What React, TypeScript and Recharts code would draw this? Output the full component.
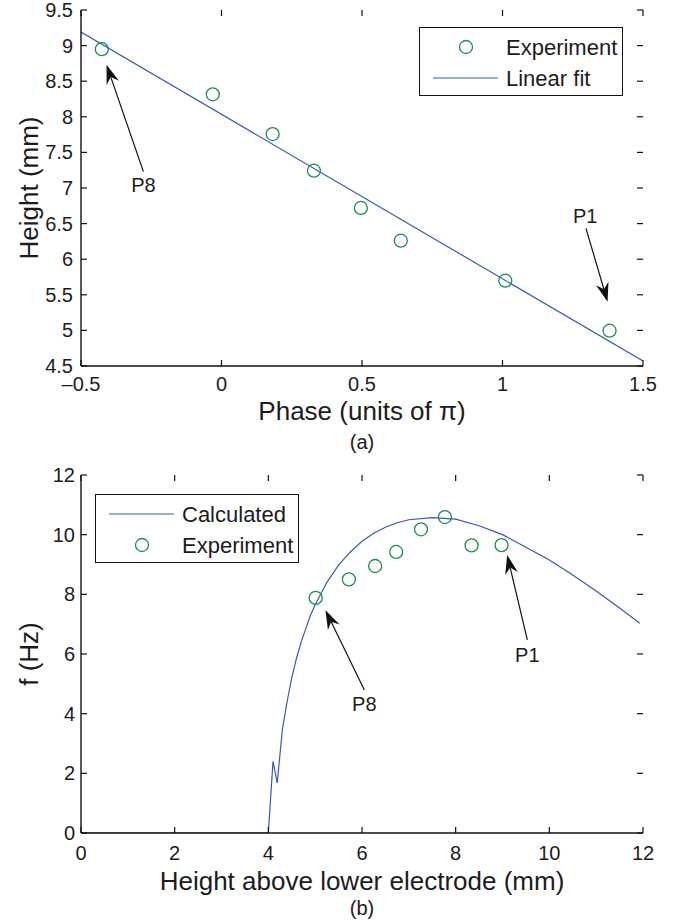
import React from 'react';
import { ComposedChart, Line, Scatter, XAxis, YAxis, Legend, ReferenceLine, ReferenceDot } from 'recharts';

const FONT = '"Liberation Sans", Arial, Helvetica, sans-serif';
const INK = '#1c1c1c';
const BLUE = '#3857bd';
const GREEN = '#1b8f4c';

// (a) height vs phase
const phaseExp = [-0.426, -0.031, 0.182, 0.329, 0.496, 0.638, 1.01, 1.381];
const heightExp = [8.95, 8.316, 7.758, 7.243, 6.72, 6.26, 5.698, 4.996];
const phaseFit = [-0.5, 1.5];
const heightFit = [9.19, 4.57];
const phaseTicks = [-0.5, 0, 0.5, 1, 1.5];
const heightTicks = [4.5, 5, 5.5, 6, 6.5, 7, 7.5, 8, 8.5, 9, 9.5];

// (b) frequency vs height above lower electrode
const calcHeight = [0, 4.0, 4.1, 4.19, 4.3, 4.4, 4.5, 4.6, 4.7, 4.8, 4.9, 5.0, 5.1, 5.25, 5.5, 5.75, 6.0, 6.25, 6.5, 6.75, 7.0, 7.5, 8.0, 8.5, 9.0, 9.5, 10.0, 10.5, 11.0, 11.5, 11.93];
const calcFreq = [0, 0, 2.4, 1.68, 3.47, 4.4, 5.2, 5.85, 6.4, 6.85, 7.3, 7.65, 7.95, 8.4, 8.98, 9.42, 9.78, 10.05, 10.25, 10.4, 10.5, 10.57, 10.52, 10.3, 10.0, 9.58, 9.15, 8.65, 8.11, 7.54, 7.03];
const expHeight = [5.01, 5.72, 6.28, 6.73, 7.26, 7.77, 8.34, 8.98];
const expFreq = [7.88, 8.5, 8.95, 9.42, 10.18, 10.59, 9.64, 9.65];
const bTicks = [0, 2, 4, 6, 8, 10, 12];

// annotation arrows: tail -> tip, label centre
const arrowsA = [
  { name: 'P8', tail: [-0.278, 7.23], tip: [-0.409, 8.73], at: [-0.278, 7.04] },
  { name: 'P1', tail: [1.297, 6.434], tip: [1.374, 5.403], at: [1.294, 6.61] },
];
const arrowsB = [
  { name: 'P8', tail: [6.05, 4.79], tip: [5.22, 7.47], at: [6.05, 4.33] },
  { name: 'P1', tail: [9.53, 6.47], tip: [9.1, 9.32], at: [9.53, 5.96] },
];

const fitA = phaseFit.map((x, i) => ({ x, y: heightFit[i] }));
const expA = phaseExp.map((x, i) => ({ x, y: heightExp[i] }));
const calcB = calcHeight.map((x, i) => ({ x, y: calcFreq[i] }));
const expB = expHeight.map((x, i) => ({ x, y: expFreq[i] }));

const fmt = (v: number) => (v < 0 ? '\u2013' + Math.abs(v) : String(v));

const PLOT_W = 562;
const TICK = 6;

const ring = (p: any) => (
  <circle cx={p.cx} cy={p.cy} r={6.5} fill="none" stroke={GREEN} strokeWidth={1.3} />
);

const arrowShape = (p: any) => {
  const { x1, y1, x2, y2 } = p;
  const dx = x2 - x1;
  const dy = y2 - y1;
  const len = Math.hypot(dx, dy) || 1;
  const ux = dx / len;
  const uy = dy / len;
  const nx = -uy;
  const ny = ux;
  const L = 19;
  const W = 6.5;
  const N = 13;
  const bx = x2 - ux * L;
  const by = y2 - uy * L;
  const pts = [
    [x2, y2],
    [bx + nx * W, by + ny * W],
    [x2 - ux * N, y2 - uy * N],
    [bx - nx * W, by - ny * W],
  ]
    .map((q) => q.join(','))
    .join(' ');
  return (
    <g>
      <line x1={x1} y1={y1} x2={x2 - ux * N} y2={y2 - uy * N} stroke="#111" strokeWidth={1.2} />
      <polygon points={pts} fill="#111" />
    </g>
  );
};

// bottom tick: inward marks on bottom and top edges, label below
const xTick = (plotH: number, gap: number) => (p: any) => {
  const { x, y, payload } = p;
  return (
    <g>
      <line x1={x} x2={x} y1={y} y2={y - TICK} stroke="#111" strokeWidth={1.2} />
      <line x1={x} x2={x} y1={y - plotH} y2={y - plotH + TICK} stroke="#111" strokeWidth={1.2} />
      <text x={x} y={y + gap} textAnchor="middle" dominantBaseline="central" fontSize={20} fontFamily={FONT} fill={INK}>
        {fmt(payload.value)}
      </text>
    </g>
  );
};

// left tick: inward marks on left and right edges, label to the left
const yTick = (gap: number) => (p: any) => {
  const { x, y, payload } = p;
  return (
    <g>
      <line x1={x} x2={x + TICK} y1={y} y2={y} stroke="#111" strokeWidth={1.2} />
      <line x1={x + PLOT_W} x2={x + PLOT_W - TICK} y1={y} y2={y} stroke="#111" strokeWidth={1.2} />
      <text x={x - gap} y={y} textAnchor="end" dominantBaseline="central" fontSize={20} fontFamily={FONT} fill={INK}>
        {fmt(payload.value)}
      </text>
    </g>
  );
};

const xTitle = (title: string, sub: string, dy1: number, dy2: number) => (props: any) => {
  const vb = props.viewBox;
  const cx = vb.x + vb.width / 2;
  return (
    <g fontFamily={FONT} fill={INK}>
      <text x={cx} y={vb.y + dy1} textAnchor="middle" dominantBaseline="central" fontSize={26}>
        {title}
      </text>
      <text x={cx} y={vb.y + dy2} textAnchor="middle" dominantBaseline="central" fontSize={20}>
        {sub}
      </text>
    </g>
  );
};

const yTitle = (title: string) => (props: any) => {
  const vb = props.viewBox;
  const cx = vb.x + 29;
  const cy = vb.y + vb.height / 2;
  return (
    <text
      x={cx}
      y={cy}
      transform={`rotate(-90, ${cx}, ${cy})`}
      textAnchor="middle"
      dominantBaseline="central"
      fontSize={26}
      fontFamily={FONT}
      fill={INK}
    >
      {title}
    </text>
  );
};

type Row = { kind: 'ring' | 'line'; text: string };

const LegendBox = ({ rows }: { rows: Row[] }) => (
  <div style={{ width: 204, height: 69, border: '1.5px solid #111', boxSizing: 'border-box', background: '#fff' }}>
    <svg width={201} height={66} style={{ display: 'block' }}>
      {rows.map((r, i) => {
        const y = 19 + i * 31;
        return (
          <g key={r.text}>
            {r.kind === 'ring' ? (
              <circle cx={46} cy={y} r={6.5} fill="none" stroke={GREEN} strokeWidth={1.3} />
            ) : (
              <line x1={13} x2={78} y1={y} y2={y} stroke={BLUE} strokeWidth={1.2} />
            )}
            <text x={86} y={y} dominantBaseline="central" fontSize={22} fontFamily={FONT} fill={INK}>
              {r.text}
            </text>
          </g>
        );
      })}
    </svg>
  </div>
);

const axisStroke = { stroke: '#111', strokeWidth: 1.4 };

const frame = (
  xTicks: number[],
  xDomain: [number, number],
  yTicks: number[],
  yDomain: [number, number],
  xLabel: any,
  yLabel: any,
  xHeight: number,
  plotH: number,
  xGap: number,
  yGap: number,
) => [
  <XAxis
    key="xb"
    xAxisId="b"
    type="number"
    dataKey="x"
    domain={xDomain}
    ticks={xTicks}
    allowDataOverflow
    tick={xTick(plotH, xGap)}
    tickSize={0}
    tickMargin={0}
    tickLine={false}
    axisLine={axisStroke}
    height={xHeight}
    interval={0}
    label={xLabel}
  />,
  <XAxis
    key="xt"
    xAxisId="t"
    orientation="top"
    type="number"
    dataKey="x"
    domain={xDomain}
    allowDataOverflow
    tick={false}
    tickLine={false}
    axisLine={axisStroke}
    height={0}
  />,
  <YAxis
    key="yl"
    yAxisId="l"
    type="number"
    dataKey="y"
    domain={yDomain}
    ticks={yTicks}
    allowDataOverflow
    tick={yTick(yGap)}
    tickSize={0}
    tickMargin={0}
    tickLine={false}
    axisLine={axisStroke}
    width={81}
    interval={0}
    label={yLabel}
  />,
  <YAxis
    key="yr"
    yAxisId="r"
    orientation="right"
    type="number"
    dataKey="y"
    domain={yDomain}
    allowDataOverflow
    tick={false}
    tickLine={false}
    axisLine={axisStroke}
    width={0}
  />,
];

const arrowMarks = (list: typeof arrowsA) =>
  list.flatMap((a) => [
    <ReferenceLine
      key={a.name + 'l'}
      xAxisId="b"
      yAxisId="l"
      segment={[
        { x: a.tail[0], y: a.tail[1] },
        { x: a.tip[0], y: a.tip[1] },
      ]}
      shape={arrowShape}
    />,
    <ReferenceDot
      key={a.name + 't'}
      xAxisId="b"
      yAxisId="l"
      x={a.at[0]}
      y={a.at[1]}
      r={0}
      fill="none"
      stroke="none"
      label={{ value: a.name, position: 'center', fontSize: 20, fill: INK, fontFamily: FONT }}
    />,
  ]);

export default function App() {
  return (
    <div style={{ position: 'absolute', left: 0, top: 0, width: 680, height: 923, background: '#fff' }}>
      <ComposedChart width={680} height={460} margin={{ top: 10, right: 37, bottom: 0, left: 0 }}>
        {frame(
          phaseTicks,
          [-0.5, 1.5],
          heightTicks,
          [4.5, 9.5],
          xTitle('Phase (units of \u03c0)', '(a)', 45, 76),
          yTitle('Height (mm)'),
          94,
          356,
          18,
          8,
        )}
        <Line
          xAxisId="b"
          yAxisId="l"
          data={fitA}
          dataKey="y"
          stroke={BLUE}
          strokeWidth={1.2}
          dot={false}
          isAnimationActive={false}
        />
        <Scatter xAxisId="b" yAxisId="l" data={expA} dataKey="y" shape={ring} isAnimationActive={false} />
        {arrowMarks(arrowsA)}
        <Legend
          layout="vertical"
          align="center"
          verticalAlign="middle"
          wrapperStyle={{ left: 419, top: 27, width: 204, height: 69 }}
          content={() => (
            <LegendBox
              rows={[
                { kind: 'ring', text: 'Experiment' },
                { kind: 'line', text: 'Linear fit' },
              ]}
            />
          )}
        />
      </ComposedChart>
      <ComposedChart width={680} height={463} margin={{ top: 15, right: 37, bottom: 0, left: 0 }}>
        {frame(
          bTicks,
          [0, 12],
          bTicks,
          [0, 12],
          xTitle('Height above lower electrode (mm)', '(b)', 48, 75),
          yTitle('f (Hz)'),
          90,
          358,
          20,
          6,
        )}
        <Line
          xAxisId="b"
          yAxisId="l"
          data={calcB}
          dataKey="y"
          stroke={BLUE}
          strokeWidth={1.2}
          dot={false}
          isAnimationActive={false}
        />
        <Scatter xAxisId="b" yAxisId="l" data={expB} dataKey="y" shape={ring} isAnimationActive={false} />
        {arrowMarks(arrowsB)}
        <Legend
          layout="vertical"
          align="center"
          verticalAlign="middle"
          wrapperStyle={{ left: 95, top: 34, width: 204, height: 69 }}
          content={() => (
            <LegendBox
              rows={[
                { kind: 'line', text: 'Calculated' },
                { kind: 'ring', text: 'Experiment' },
              ]}
            />
          )}
        />
      </ComposedChart>
    </div>
  );
}
